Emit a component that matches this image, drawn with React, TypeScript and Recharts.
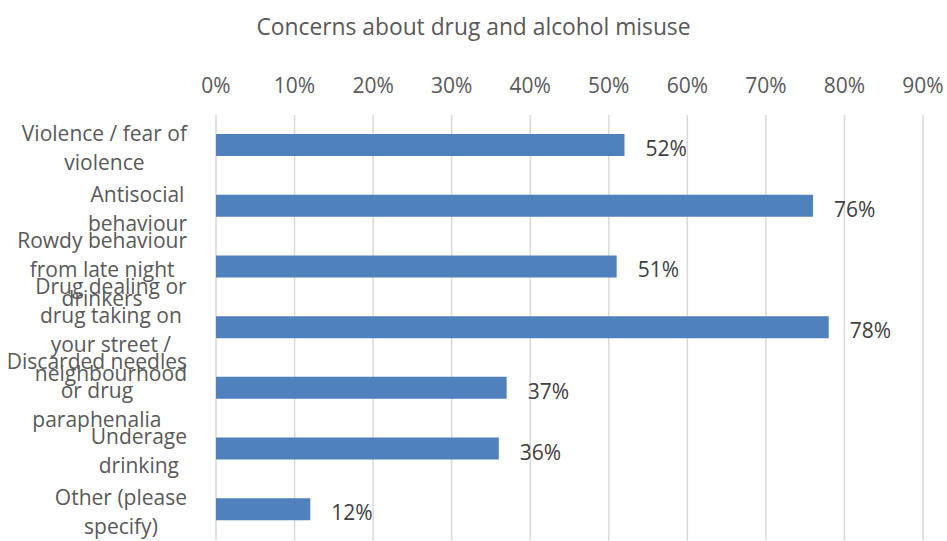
import React from "react";
import {
  Bar,
  BarChart,
  CartesianGrid,
  LabelList,
  XAxis,
  YAxis,
} from "recharts";

const categories = [
  "Violence / fear of\nviolence",
  "Antisocial\nbehaviour",
  "Rowdy behaviour\nfrom late night\ndrinkers",
  "Drug dealing or\ndrug taking on\nyour street /\nneighbourhood",
  "Discarded needles\nor drug\nparaphenalia",
  "Underage\ndrinking",
  "Other (please\nspecify)",
];
const shares = [0.52, 0.76, 0.51, 0.78, 0.37, 0.36, 0.12];
const xTicks = [0, 0.1, 0.2, 0.3, 0.4, 0.5, 0.6, 0.7, 0.8, 0.9];

const data = categories.map((name, i) => ({ name, value: shares[i] }));

const FONT = "'Open Sans', sans-serif";
const FONT_SIZE = 21;
const LINE_H = 29;
const LABEL_RIGHT = 187;

let canvas: HTMLCanvasElement | null = null;
function textWidth(s: string) {
  if (!canvas) canvas = document.createElement("canvas");
  const ctx = canvas.getContext("2d");
  if (!ctx) return s.length * 9;
  ctx.font = `${FONT_SIZE}px 'Open Sans'`;
  return ctx.measureText(s).width;
}

const pct = (v: number) => `${Math.round(v * 100)}%`;

function CategoryTick(props: any) {
  const { y, payload } = props;
  const lines: string[] = String(payload.value).split("\n");
  const maxW = Math.max(...lines.map(textWidth));
  const cx = LABEL_RIGHT - maxW / 2;
  const top = y + 2 - ((lines.length - 1) * LINE_H) / 2;
  return (
    <text
      textAnchor="middle"
      fill="#595959"
      fontSize={FONT_SIZE}
      fontFamily={FONT}
      dominantBaseline="central"
    >
      {lines.map((l, i) => (
        <tspan key={i} x={cx} y={top + i * LINE_H}>
          {l}
        </tspan>
      ))}
    </text>
  );
}

function ValueLabel(props: any) {
  const { x, y, width, height, value } = props;
  return (
    <text
      x={x + width + 21}
      y={y + height / 2 + 3}
      fill="#404040"
      fontSize={FONT_SIZE}
      fontFamily={FONT}
      dominantBaseline="central"
    >
      {pct(value)}
    </text>
  );
}

export default function App() {
  return (
    <div
      style={{
        position: "absolute",
        left: 0,
        top: 0,
        width: 947,
        height: 541,
        background: "#fff",
        fontFamily: FONT,
      }}
    >
      <div
        style={{
          position: "absolute",
          top: 11,
          left: 0,
          width: 947,
          textAlign: "center",
          fontSize: 22.8,
          color: "#595959",
        }}
      >
        Concerns about drug and alcohol misuse
      </div>
      <BarChart
        width={947}
        height={541}
        data={data}
        layout="vertical"
        margin={{ top: 0, right: 24, bottom: 1, left: 0 }}
      >
        <CartesianGrid
          horizontal={false}
          stroke="#d9d9d9"
          strokeWidth={1.5}
        />
        <XAxis
          type="number"
          orientation="top"
          domain={[0, 0.9]}
          ticks={xTicks}
          tickFormatter={pct}
          axisLine={false}
          tickLine={false}
          tickSize={0}
          tickMargin={22}
          height={115}
          interval={0}
          tick={{ fill: "#595959", fontSize: FONT_SIZE, fontFamily: FONT }}
        />
        <YAxis
          type="category"
          dataKey="name"
          width={216}
          axisLine={false}
          tickLine={false}
          interval={0}
          tick={<CategoryTick />}
        />
        <Bar dataKey="value" fill="#4f81bd" barSize={22} isAnimationActive={false}>
          <LabelList dataKey="value" content={<ValueLabel />} />
        </Bar>
      </BarChart>
    </div>
  );
}
